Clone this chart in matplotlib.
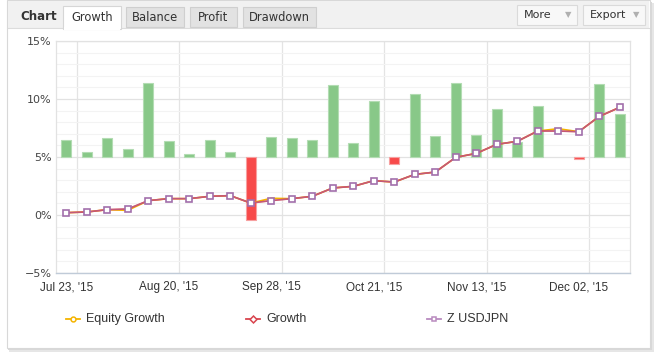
import matplotlib
matplotlib.use("Agg")
import matplotlib.pyplot as plt
from matplotlib.patches import Rectangle
from matplotlib.lines import Line2D

W, H = 659, 356

# data
z_usdjpn = [0.20, 0.26, 0.46, 0.52, 1.24, 1.41, 1.41, 1.61, 1.67, 1.03, 1.24, 1.41, 1.61, 2.33,
            2.47, 2.96, 2.84, 3.50, 3.70, 4.97, 5.31, 6.09, 6.35, 7.24, 7.24, 7.18, 8.50, 9.28]
growth = list(z_usdjpn)
equity = [0.20, 0.26, 0.46, 0.40, 1.24, 1.41, 1.41, 1.61, 1.67, 1.03, 1.44, 1.41, 1.61, 2.33,
          2.47, 2.96, 2.84, 3.50, 3.70, 4.97, 5.31, 6.09, 6.35, 7.24, 7.44, 7.18, 8.50, 9.28]
bar_tops = [6.44, 5.46, 6.61, 5.66, 11.35, 6.35, 5.29, 6.44, 5.46, -0.43, 6.75, 6.66, 6.44, 11.18,
            6.18, 9.80, 4.37, 10.40, 6.78, 11.35, 6.87, 9.10, 6.27, 9.42, 5.00, 4.80, 11.27, 8.68]
bar_base = 5
date_labels = ["Jul 23, '15", "Aug 20, '15", "Sep 28, '15", "Oct 21, '15", "Nov 13, '15", "Dec 02, '15"]
date_pos = [0, 5, 10, 15, 20, 25]
y_ticks = [-5, 0, 5, 10, 15]
tabs = ["Growth", "Balance", "Profit", "Drawdown"]


def fx(x):
    return x / W


def fy(y):
    return 1 - y / H


def box(x0, y0, x1, y1, fc, ec="none", lw=0.8, z=0):
    r = Rectangle((fx(x0), fy(y1)), (x1 - x0) / W, (y1 - y0) / H, transform=fig.transFigure,
                  facecolor=fc, edgecolor=ec, linewidth=lw, zorder=z)
    fig.add_artist(r)


fig = plt.figure(figsize=(W / 100, H / 100), dpi=100, facecolor="white")

# card + shadow
box(9, 3, 654, 352, "#e6e6e6", z=-3)
box(8, 2, 652, 350, "#d8d8d8", z=-2)
box(7, 0, 650, 348, "white", "#d8d8d8", z=-1)
box(8, 1, 649, 28, "#f1f1f1", z=-1)
fig.add_artist(Line2D([fx(8), fx(649)], [fy(28), fy(28)], transform=fig.transFigure,
                      color="#dcdcdc", lw=0.8, zorder=-1))

fig.text(fx(20), fy(17), "Chart", fontsize=8.5, fontweight="bold", color="#333333",
         va="center", ha="left")

tab_x = [(63, 121), (126, 184), (190, 237), (243, 316)]
for name, (a, b) in zip(tabs, tab_x):
    if name == "Growth":
        box(a, 6, b, 29, "white", "#d6d6d6", z=0)
        box(a + 0.6, 27, b - 0.6, 30, "white", z=1)
    else:
        box(a, 7, b, 27, "#e2e2e2", "#cfcfcf", z=0)
    fig.text(fx((a + b) / 2), fy(17.5), name, fontsize=8.3, color="#333333", ha="center",
             va="center")

for name, a, b in [("More", 517, 577), ("Export", 583, 645)]:
    box(a, 5, b, 25, "#f8f8f8", "#dadada", z=0)
    fig.text(fx(a + 7), fy(15), name, fontsize=8, color="#333333", ha="left", va="center")
    fig.text(fx(b - 9), fy(15), "\u25bc", fontsize=6, color="#b0b0b0", ha="center", va="center")

ax = fig.add_axes([fx(56), fy(273), (630 - 56) / W, (273 - 41) / H])
ax.set_facecolor("white")
x = list(range(len(z_usdjpn)))

heights = [t - bar_base for t in bar_tops]
colors = ["#88c888" if h >= 0 else "#f74a4a" for h in heights]
edges = ["none" if h == 0 else ("#b3dcb3" if h > 0 else "#f7a0a0") for h in heights]
ax.bar(x, heights, bottom=bar_base, width=0.5, color=colors, edgecolor=edges, linewidth=0.8,
       zorder=2)

ax.plot(x, equity, color="#f5b400", lw=1.2, zorder=3)
ax.plot(x, growth, color="#d9454f", lw=1.2, zorder=4)
ax.plot(x, z_usdjpn, color="#a874b0", lw=1.0, alpha=0.45, zorder=5)
ax.plot(x, z_usdjpn, lw=0, marker="s", ms=4.5, mfc="white", mec="#a26fab", mew=1.2, zorder=6)

ax.set_xlim(-0.5, 27.5)
ax.set_ylim(-5, 15)
ax.set_yticks(y_ticks)
ax.set_yticklabels([f"{v}%".replace("-", "\u2212") for v in y_ticks])
ax.set_yticks(range(-5, 16), minor=True)
ax.set_xticks(date_pos)
ax.set_xticklabels(date_labels, fontfamily="Liberation Sans")
ax.set_xticks([p + 0.5 for p in date_pos], minor=True)

ax.grid(True, which="major", axis="y", color="#e2e2e2", lw=0.9, zorder=0)
ax.grid(True, which="minor", axis="y", color="#f3f3f3", lw=0.8, zorder=0)
ax.grid(True, which="minor", axis="x", color="#e4e4e4", lw=0.9, zorder=0)
ax.set_axisbelow(True)
ax.tick_params(which="both", length=0)
ax.tick_params(axis="y", labelsize=8, labelcolor="#444444", pad=3)
ax.tick_params(axis="x", labelsize=8.5, labelcolor="#333333", pad=6)

for s in ["top", "right", "left"]:
    ax.spines[s].set_color("#e2e2e2")
    ax.spines[s].set_linewidth(0.9)
ax.spines["bottom"].set_color("#c0cbd8")
ax.spines["bottom"].set_linewidth(1.0)

# legend
legend = [("Equity Growth", "#f5b400", "o", 66), ("Growth", "#d9454f", "D", 246),
          ("Z USDJPN", "#b98abf", "s", 427)]
for name, col, mk, lx in legend:
    fig.add_artist(Line2D([fx(lx), fx(lx + 14)], [fy(319), fy(319)], transform=fig.transFigure,
                          color=col, lw=1.3))
    fig.add_artist(Line2D([fx(lx + 7)], [fy(319)], transform=fig.transFigure, marker=mk,
                          ms=3.5, mfc="white", mec=col, mew=1.1, lw=0))
    fig.text(fx(lx + 20), fy(319), name, fontsize=9, fontfamily="Liberation Sans",
             color="#333333", ha="left", va="center")

fig.savefig("out.png", dpi=100)
